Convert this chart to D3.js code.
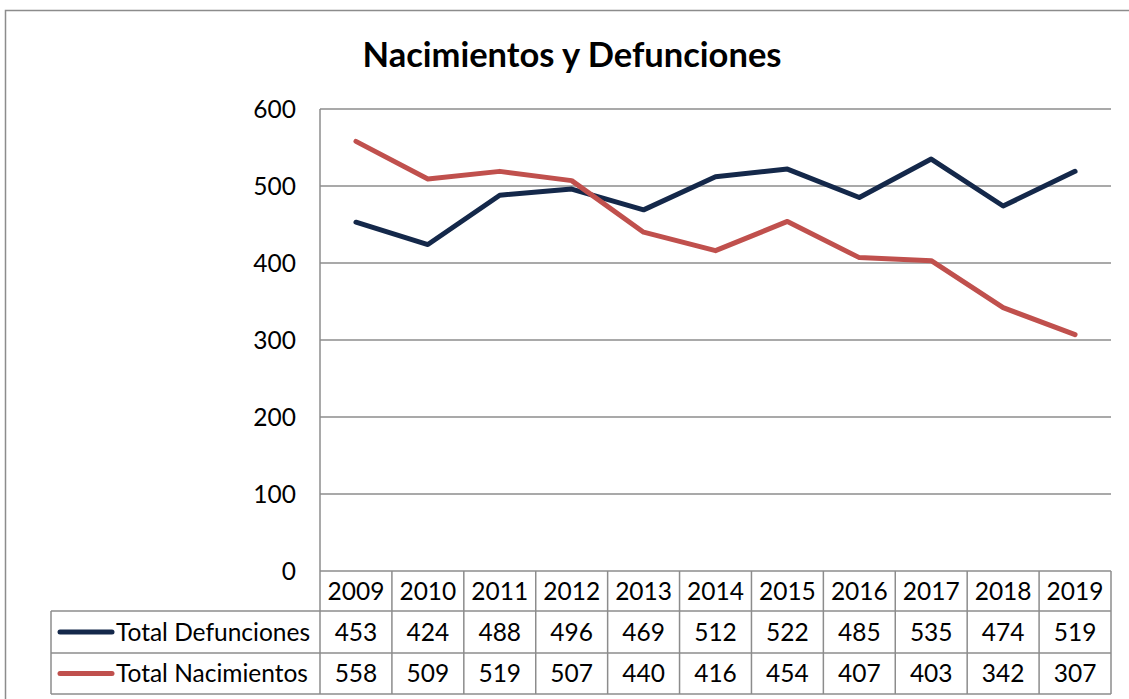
<!DOCTYPE html>
<html>
<head>
<meta charset="utf-8">
<script src="https://cdn.jsdelivr.net/npm/d3@7"></script>
<style>
	html, body { margin: 0; padding: 0; background: #fff; }
	svg { display: block; font-family: Lato, "Open Sans", sans-serif; }
</style>
</head>
<body>
<svg id="chart" width="1129" height="699"></svg>
<script>
const years = ["2009", "2010", "2011", "2012", "2013", "2014", "2015", "2016", "2017", "2018", "2019"];
const defunciones = [453, 424, 488, 496, 469, 512, 522, 485, 535, 474, 519];
const nacimientos = [558, 509, 519, 507, 440, 416, 454, 407, 403, 342, 307];
const yTicks = [0, 100, 200, 300, 400, 500, 600];

const series = [
	{ name: "Total Defunciones", values: defunciones, color: "#14284a" },
	{ name: "Total Nacimientos", values: nacimientos, color: "#c0504d" },
];

const svg = d3.select("#chart");
const gridColor = "#8c8c8c";
const fontSize = 24.5;

const plot = { left: 320, right: 1111, top: 109, bottom: 571 };
const rowH = [40, 42, 41]; // header, row 1, row 2
const legendLeft = 51;

// chart frame
svg.append("rect")
	.attr("x", 5.5)
	.attr("y", 10.5)
	.attr("width", 1140)
	.attr("height", 700)
	.attr("fill", "none")
	.attr("stroke", gridColor)
	.attr("stroke-width", 1.5);

svg.append("text")
	.attr("x", 572)
	.attr("y", 67)
	.attr("text-anchor", "middle")
	.attr("font-size", 34.5)
	.attr("font-weight", "bold")
	.attr("fill", "#000")
	.text("Nacimientos y Defunciones");

const x = d3.scaleBand()
	.domain(years)
	.range([plot.left, plot.right])
	.padding(0);

const y = d3.scaleLinear()
	.domain([0, 600])
	.range([plot.bottom, plot.top]);

// gridlines
svg.append("g")
	.selectAll("line")
	.data(yTicks)
	.join("line")
	.attr("x1", plot.left)
	.attr("x2", plot.right)
	.attr("y1", (d) => y(d))
	.attr("y2", (d) => y(d))
	.attr("stroke", gridColor)
	.attr("stroke-width", 1.5);

// y axis
svg.append("line")
	.attr("x1", plot.left)
	.attr("x2", plot.left)
	.attr("y1", plot.top)
	.attr("y2", plot.bottom)
	.attr("stroke", gridColor)
	.attr("stroke-width", 1.5);

svg.append("g")
	.selectAll("text")
	.data(yTicks)
	.join("text")
	.attr("x", 296)
	.attr("y", (d) => y(d) + 8.5)
	.attr("text-anchor", "end")
	.attr("font-size", fontSize)
	.attr("fill", "#000")
	.text((d) => d);

// lines
const lineGen = d3.line()
	.x((d, i) => x(years[i]) + x.bandwidth() / 2)
	.y((d) => y(d));

svg.append("g")
	.selectAll("path")
	.data(series)
	.join("path")
	.attr("d", (s) => lineGen(s.values))
	.attr("fill", "none")
	.attr("stroke", (s) => s.color)
	.attr("stroke-width", 5)
	.attr("stroke-linejoin", "round")
	.attr("stroke-linecap", "round");

// data table
const table = svg.append("g");
const rowTop = [plot.bottom, plot.bottom + rowH[0], plot.bottom + rowH[0] + rowH[1]];
const tableBottom = rowTop[2] + rowH[2];

function hLine(x1, x2, yy) {
	table.append("line")
		.attr("x1", x1).attr("x2", x2).attr("y1", yy).attr("y2", yy)
		.attr("stroke", gridColor).attr("stroke-width", 1.5);
}
function vLine(xx, y1, y2) {
	table.append("line")
		.attr("x1", xx).attr("x2", xx).attr("y1", y1).attr("y2", y2)
		.attr("stroke", gridColor).attr("stroke-width", 1.5);
}

hLine(legendLeft, plot.right, rowTop[1]);
hLine(legendLeft, plot.right, rowTop[2]);
hLine(legendLeft, plot.right, tableBottom);
vLine(legendLeft, rowTop[1], tableBottom);
vLine(plot.left, plot.bottom, tableBottom);
years.forEach((yr) => vLine(x(yr) + x.bandwidth(), plot.bottom, tableBottom));

table.selectAll(".yr")
	.data(years)
	.join("text")
	.attr("class", "yr")
	.attr("x", (d) => x(d) + x.bandwidth() / 2)
	.attr("y", rowTop[0] + rowH[0] / 2 + 8.5)
	.attr("text-anchor", "middle")
	.attr("font-size", fontSize)
	.text((d) => d);

series.forEach((s, si) => {
	const top = rowTop[si + 1];
	const mid = top + rowH[si + 1] / 2;
	table.append("line")
		.attr("x1", 60).attr("x2", 112)
		.attr("y1", mid).attr("y2", mid)
		.attr("stroke", s.color)
		.attr("stroke-width", 5)
		.attr("stroke-linecap", "round");
	table.append("text")
		.attr("x", 116)
		.attr("y", mid + 8.5)
		.attr("font-size", fontSize)
		.text(s.name);
	table.append("g")
		.selectAll("text")
		.data(s.values)
		.join("text")
		.attr("x", (d, i) => x(years[i]) + x.bandwidth() / 2)
		.attr("y", mid + 8.5)
		.attr("text-anchor", "middle")
		.attr("font-size", fontSize)
		.text((d) => d);
});
</script>
</body>
</html>
